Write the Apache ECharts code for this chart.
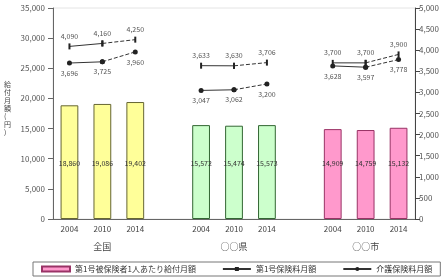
<!DOCTYPE html>
<html>
<head>
<meta charset="utf-8">
<script src="https://cdn.jsdelivr.net/npm/echarts@6/dist/echarts.min.js"></script>
<style>
  html, body { margin: 0; padding: 0; background: #fff; }
  #chart { width: 442px; height: 277px; }
</style>
</head>
<body>
<div id="chart"></div>
<script>
  // カテゴリ（空欄はグループ間の隙間）
  const years = ['2004', '2010', '2014', '', '2004', '2010', '2014', '', '2004', '2010', '2014'];
  const groups = ['', '全国', '', '', '', '○○県', '', '', '', '○○市', ''];
  const leftTicks = [0, 35000, 5000];
  const rightTicks = [0, 5000, 500];

  // 第1号被保険者1人あたり給付月額（棒）
  const benefit = [18860, 19086, 19402, null, 15572, 15474, 15573, null, 14909, 14759, 15132];
  // 第1号保険料月額（上の線）
  const premium = [4090, 4160, 4250, null, 3633, 3630, 3706, null, 3700, 3700, 3900];
  // 介護保険料月額（下の線）
  const careFee = [3696, 3725, 3960, null, 3047, 3062, 3200, null, 3628, 3597, 3778];

  const fills = ['#ffff99', '#ccffcc', '#ff99cc'];
  const edges = ['#666633', '#336633', '#993366'];

  const fmt = v => v.toLocaleString('en-US');
  const font = '"Noto Sans CJK JP", sans-serif';

  // 実線（1点目→2点目）と破線（2点目→3点目）に分ける
  function solidPart(arr) {
    return arr.map((v, i) => (i % 4 === 0 || i % 4 === 1) ? v : null);
  }
  function dashPart(arr) {
    return arr.map((v, i) => (i % 4 === 1 || i % 4 === 2) ? v : null);
  }

  const barData = benefit.map((v, i) => {
    if (v == null) return null;
    const g = Math.floor(i / 4);
    return { value: v, itemStyle: { color: fills[g], borderColor: edges[g], borderWidth: 1 } };
  });

  function lineSeries(name, arr, symbol, size, pos) {
    const common = {
      name: name,
      type: 'line',
      yAxisIndex: 1,
      symbol: symbol,
      symbolSize: size,
      itemStyle: { color: '#222' },
      z: 5
    };
    return [
      Object.assign({}, common, {
        data: solidPart(arr),
        lineStyle: { color: '#333', width: 1 },
        label: {
          show: true, position: pos, distance: 4, fontSize: 7, color: '#555', fontFamily: font,
          formatter: p => p.value == null ? '' : fmt(p.value)
        }
      }),
      Object.assign({}, common, {
        data: dashPart(arr),
        lineStyle: { color: '#333', width: 1, type: 'dashed' },
        label: {
          show: true, position: pos, distance: 4, fontSize: 7, color: '#555', fontFamily: font,
          formatter: p => (p.value == null || p.dataIndex % 4 !== 2) ? '' : fmt(p.value)
        }
      })
    ];
  }

  const chart = echarts.init(document.getElementById('chart'));
  chart.setOption({
    animation: false,
    textStyle: { fontFamily: font },
    grid: { left: 53, right: 24, top: 8, bottom: 58, show: true, borderColor: '#e4e4e4', borderWidth: 1 },
    graphic: [{
      type: 'text', left: 4, top: 80,
      style: { text: '給\n付\n月\n額\n(\n円\n)', fontSize: 7, lineHeight: 8, fill: '#444', fontFamily: font }
    }],
    legend: {
      left: 33, bottom: 1, width: 400,
      padding: [3, 8, 3, 8],
      borderColor: '#777', borderWidth: 1,
      itemGap: 26, itemWidth: 28, itemHeight: 5,
      textStyle: { fontSize: 8, color: '#333', fontFamily: font },
      data: [
        { name: '第1号被保険者1人あたり給付月額', icon: 'rect' },
        { name: '第1号保険料月額' },
        { name: '介護保険料月額' }
      ]
    },
    xAxis: [
      {
        type: 'category', data: years, position: 'bottom',
        axisLine: { lineStyle: { color: '#666' } },
        axisTick: { lineStyle: { color: '#666' } },
        axisLabel: { fontSize: 8, color: '#444', margin: 6, interval: 0 }
      },
      {
        type: 'category', data: groups, position: 'bottom', offset: 15,
        axisLine: { show: false }, axisTick: { show: false },
        axisLabel: { fontSize: 9, color: '#444', interval: 0 }
      }
    ],
    yAxis: [
      {
        type: 'value', min: leftTicks[0], max: leftTicks[1], interval: leftTicks[2],
        axisLine: { show: true, lineStyle: { color: '#666' } },
        axisTick: { show: true, lineStyle: { color: '#666' } },
        splitLine: { show: false },
        axisLabel: { fontSize: 8, color: '#555', formatter: fmt }
      },
      {
        type: 'value', min: rightTicks[0], max: rightTicks[1], interval: rightTicks[2],
        position: 'right',
        axisLine: { show: true, lineStyle: { color: '#444' } },
        axisTick: { show: true, lineStyle: { color: '#444' } },
        splitLine: { show: false },
        axisLabel: { fontSize: 8, color: '#555', margin: 4, formatter: fmt }
      }
    ],
    series: [
      {
        name: '第1号被保険者1人あたり給付月額',
        type: 'bar',
        barWidth: '54%',
        data: barData,
        itemStyle: { color: '#ff99cc', borderColor: '#993366', borderWidth: 1 },
        label: {
          show: true, position: 'insideBottom', distance: 52,
          fontSize: 7, color: '#333', fontFamily: font,
          formatter: p => fmt(p.value)
        }
      },
      ...lineSeries('第1号保険料月額', premium, 'rect', [2, 6], 'top'),
      ...lineSeries('介護保険料月額', careFee, 'circle', 5, 'bottom')
    ]
  });
</script>
</body>
</html>
